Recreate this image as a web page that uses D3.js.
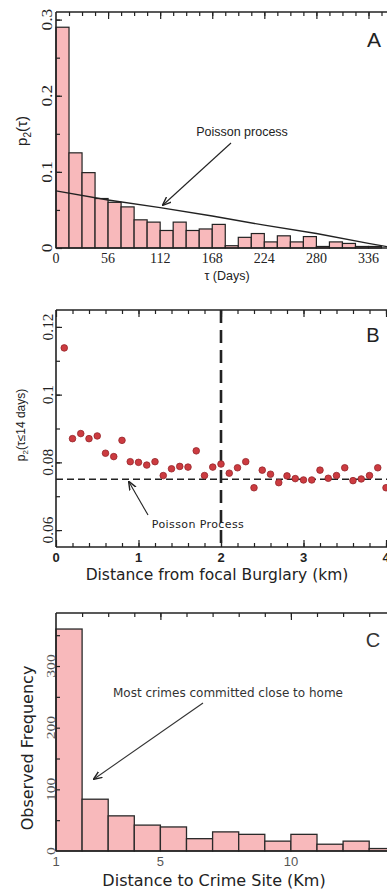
<!DOCTYPE html>
<html>
<head>
<meta charset="utf-8">
<script src="https://cdn.jsdelivr.net/npm/d3@7"></script>
<style>
  body { margin: 0; background: #fff; }
  svg { display: block; }
</style>
</head>
<body>
<script>
// ---- Panel A: repeat-burglary interval distribution (14-day bins) ----
const binStartsA = [0, 14, 28, 42, 56, 70, 84, 98, 112, 126, 140, 154, 168,
                    182, 196, 210, 224, 238, 252, 266, 280, 294, 308, 322, 336];
const p2Values = [0.290, 0.125, 0.099, 0.065, 0.060, 0.054, 0.037, 0.034, 0.023,
                  0.034, 0.023, 0.025, 0.031, 0.003, 0.014, 0.019, 0.008, 0.016,
                  0.008, 0.015, 0.002, 0.008, 0.006, 0.002, 0.002];
const poissonDays = [0, 56, 112, 168, 224, 280, 336, 360];
const poissonP2 = [0.075, 0.063, 0.053, 0.042, 0.030, 0.019, 0.006, 0.001];
const dayTicks = [0, 56, 112, 168, 224, 280, 336];
const p2Ticks = [0, 0.1, 0.2, 0.3];

// ---- Panel B: short-interval probability vs. distance from focal burglary ----
const distKm = [0.1, 0.2, 0.3, 0.4, 0.5, 0.6, 0.7, 0.8, 0.9, 1.0,
                1.1, 1.2, 1.3, 1.4, 1.5, 1.6, 1.7, 1.8, 1.9, 2.0,
                2.1, 2.2, 2.3, 2.4, 2.5, 2.6, 2.7, 2.8, 2.9, 3.0,
                3.1, 3.2, 3.3, 3.4, 3.5, 3.6, 3.7, 3.8, 3.9, 4.0];
const p2Near = [0.1138, 0.0870, 0.0885, 0.0870, 0.0878, 0.0827, 0.0817, 0.0865, 0.0802, 0.0800,
                0.0792, 0.0802, 0.0761, 0.0781, 0.0788, 0.0786, 0.0834, 0.0761, 0.0786, 0.0795,
                0.0768, 0.0784, 0.0802, 0.0725, 0.0777, 0.0765, 0.0740, 0.0760, 0.0752, 0.0748,
                0.0748, 0.0777, 0.0753, 0.0761, 0.0784, 0.0746, 0.0751, 0.0761, 0.0784, 0.0725];
const poissonLevelB = 0.075;
const focalCutKm = 2;
const kmTicks = [0, 1, 2, 3, 4];
const p2NearTicks = [0.06, 0.08, 0.1, 0.12];

// ---- Panel C: distance from home to crime site (1 km bins) ----
const siteKm = [1, 2, 3, 4, 5, 6, 7, 8, 9, 10, 11, 12, 13];
const siteFreq = [360, 84, 57, 42, 39, 20, 31, 27, 16, 27, 11, 16, 4];
const siteTicks = [1, 5, 10];
const freqTicks = [0, 100, 200, 300];

const W = 387, H = 892;
const INK = "#222";
const BAR_FILL = "#f8b9bb";
const SERIF = "'Liberation Serif', 'Times New Roman', serif";
const SANS = "'Liberation Sans', Arial, sans-serif";
const DEJAVU = "'DejaVu Sans', Verdana, sans-serif";

const svg = d3.select("body").append("svg")
  .attr("width", W).attr("height", H)
  .attr("viewBox", `0 0 ${W} ${H}`);

// open arrow head for annotations
svg.append("defs").append("marker")
  .attr("id", "arrowhead")
  .attr("viewBox", "0 0 10 10")
  .attr("refX", 9).attr("refY", 5)
  .attr("markerWidth", 8).attr("markerHeight", 8)
  .attr("orient", "auto")
  .append("path")
  .attr("d", "M0,1 L10,5 L0,9")
  .attr("fill", "none").attr("stroke", INK).attr("stroke-width", 1.6);

// inward-pointing tick marks drawn with a d3 axis generator
function inwardTicks(g, scale, orient, pos, values, len, width = 1.2) {
  const gen = orient === "top" ? d3.axisTop(scale)
            : orient === "bottom" ? d3.axisBottom(scale)
            : d3.axisLeft(scale);
  gen.tickValues(values).tickSizeInner(-len).tickSizeOuter(0).tickFormat("");
  const a = g.append("g")
    .attr("transform", orient === "left" ? `translate(${pos},0)` : `translate(0,${pos})`)
    .call(gen);
  a.select(".domain").remove();
  a.selectAll("line").attr("stroke", INK).attr("stroke-width", width);
  return a;
}

function frameLines(g, x0, y0, y1, x1) {
  g.append("line").attr("x1", x0).attr("x2", x1).attr("y1", y0).attr("y2", y0)
    .attr("stroke", INK).attr("stroke-width", 1.6);
  g.append("line").attr("x1", x0).attr("x2", x0).attr("y1", y0).attr("y2", y1)
    .attr("stroke", INK).attr("stroke-width", 1.6);
  g.append("line").attr("x1", x0).attr("x2", x1).attr("y1", y1).attr("y2", y1)
    .attr("stroke", INK).attr("stroke-width", 1.6);
}

function rotatedLabels(g, scale, values, x, fmt, font, size, color, stretch) {
  g.selectAll(null).data(values).join("text")
    .attr("transform", d => `translate(${x},${scale(d)}) rotate(-90) scale(${stretch},1)`)
    .attr("text-anchor", "middle")
    .attr("font-family", font).attr("font-size", size).attr("fill", color)
    .text(fmt);
}

function range(a, b, step) {
  const out = [];
  for (let v = a; v <= b + step / 1000; v += step) out.push(+v.toFixed(6));
  return out;
}

// ================= Panel A =================
{
  const g = svg.append("g");
  const left = 56, top = 12, bottom = 248;
  const x = d3.scaleLinear().domain([0, 365]).range([left, left + 365 * 0.93]);
  const y = d3.scaleLinear().domain([0, 0.31]).range([bottom, top]);

  g.selectAll("rect").data(binStartsA).join("rect")
    .attr("x", d => x(d))
    .attr("width", d => x(d + 14) - x(d))
    .attr("y", (d, i) => y(p2Values[i]))
    .attr("height", (d, i) => y(0) - y(p2Values[i]))
    .attr("fill", BAR_FILL).attr("stroke", INK).attr("stroke-width", 1.2);

  frameLines(g, left, top, bottom, W);
  inwardTicks(g, x, "top", top, range(14, 364, 14), 4);
  inwardTicks(g, x, "top", top, range(56, 336, 56), 7);
  inwardTicks(g, y, "left", left, range(0.05, 0.3, 0.05), 4);
  inwardTicks(g, y, "left", left, p2Ticks, 6);

  g.append("path")
    .datum(poissonDays.map((d, i) => [d, poissonP2[i]]))
    .attr("d", d3.line().x(d => x(d[0])).y(d => y(d[1])))
    .attr("fill", "none").attr("stroke", INK).attr("stroke-width", 1.4);

  g.selectAll(null).data(dayTicks).join("text")
    .attr("x", d => x(d)).attr("y", 263)
    .attr("text-anchor", "middle")
    .attr("font-family", SERIF).attr("font-size", 14).attr("fill", INK)
    .text(d => d);

  rotatedLabels(g, y, p2Ticks, 52, d => d === 0 ? "0" : d3.format(".1f")(d), SERIF, 15, INK, 1.15);

  const yl = g.append("text")
    .attr("transform", `translate(27,131) rotate(-90)`)
    .attr("text-anchor", "middle")
    .attr("font-family", SANS).attr("font-size", 15).attr("fill", INK);
  yl.append("tspan").text("p");
  yl.append("tspan").attr("font-size", 10).attr("dy", 4).text("2");
  yl.append("tspan").attr("dy", -4).text("(τ)");

  g.append("text").attr("x", 227).attr("y", 280)
    .attr("text-anchor", "middle")
    .attr("font-family", SANS).attr("font-size", 12.5).attr("fill", INK)
    .text("τ (Days)");

  g.append("text").attr("x", 242).attr("y", 136)
    .attr("text-anchor", "middle")
    .attr("font-family", SANS).attr("font-size", 12.5).attr("fill", INK)
    .text("Poisson process");
  g.append("line").attr("x1", 231).attr("y1", 143).attr("x2", 163).attr("y2", 205)
    .attr("stroke", INK).attr("stroke-width", 1.1).attr("marker-end", "url(#arrowhead)");

  g.append("text").attr("x", 374).attr("y", 47)
    .attr("text-anchor", "middle")
    .attr("font-family", SANS).attr("font-size", 21).attr("fill", INK)
    .text("A");
}

// ================= Panel B =================
{
  const g = svg.append("g");
  const left = 56, top = 310, bottom = 547;
  const x = d3.scaleLinear().domain([0, 4.25]).range([left, left + 4.25 * 82.5]);
  const y = d3.scaleLinear().domain([0.055, 0.125]).range([bottom, top]);

  frameLines(g, left, top, bottom, W);
  inwardTicks(g, x, "top", top, range(0.2, 4.2, 0.2), 4);
  inwardTicks(g, x, "top", top, kmTicks, 7);
  inwardTicks(g, x, "bottom", bottom, range(0.2, 4.2, 0.2), 4);
  inwardTicks(g, x, "bottom", bottom, kmTicks, 7);
  inwardTicks(g, y, "left", left, range(0.06, 0.12, 0.01), 4);
  inwardTicks(g, y, "left", left, p2NearTicks, 6);

  g.append("line")
    .attr("x1", x(focalCutKm)).attr("x2", x(focalCutKm))
    .attr("y1", y(0.125)).attr("y2", y(0.055))
    .attr("stroke", INK).attr("stroke-width", 2.6).attr("stroke-dasharray", "13,7");

  g.append("line")
    .attr("x1", left).attr("x2", W)
    .attr("y1", y(poissonLevelB)).attr("y2", y(poissonLevelB))
    .attr("stroke", INK).attr("stroke-width", 1.5).attr("stroke-dasharray", "7,4");

  g.selectAll("circle").data(distKm).join("circle")
    .attr("cx", d => x(d))
    .attr("cy", (d, i) => y(p2Near[i]))
    .attr("r", 3.3)
    .attr("fill", "#cc3b40").attr("stroke", "#96262b").attr("stroke-width", 0.8);

  g.selectAll(null).data(kmTicks).join("text")
    .attr("x", d => x(d)).attr("y", 562)
    .attr("text-anchor", "middle")
    .attr("font-family", SANS).attr("font-weight", "bold").attr("font-size", 13).attr("fill", INK)
    .text(d => d);

  rotatedLabels(g, y, p2NearTicks, 53, d => d3.format(".2~f")(d), SERIF, 14, INK, 1.1);

  const yl = g.append("text")
    .attr("transform", `translate(25,425) rotate(-90)`)
    .attr("text-anchor", "middle")
    .attr("font-family", SANS).attr("font-size", 12).attr("fill", INK);
  yl.append("tspan").text("p");
  yl.append("tspan").attr("font-size", 8).attr("dy", 3).text("2");
  yl.append("tspan").attr("dy", -3).text("(τ≤14 days)");

  g.append("text").attr("x", 217).attr("y", 580)
    .attr("text-anchor", "middle")
    .attr("font-family", DEJAVU).attr("font-size", 15.5).attr("fill", INK)
    .text("Distance from focal Burglary (km)");

  g.append("text").attr("x", 198).attr("y", 528)
    .attr("text-anchor", "middle")
    .attr("font-family", DEJAVU).attr("font-size", 11).attr("letter-spacing", 0.4).attr("fill", INK)
    .text("Poisson Process");
  g.append("line").attr("x1", 148).attr("y1", 515).attr("x2", 129).attr("y2", 482)
    .attr("stroke", INK).attr("stroke-width", 1.1).attr("marker-end", "url(#arrowhead)");

  g.append("text").attr("x", 373).attr("y", 342)
    .attr("text-anchor", "middle")
    .attr("font-family", SANS).attr("font-size", 20).attr("fill", INK)
    .text("B");
}

// ================= Panel C =================
{
  const g = svg.append("g");
  const left = 56, top = 613, bottom = 851;
  const x = d3.scaleLinear().domain([1, 14.5]).range([left, left + 13.5 * 26.1]);
  const y = d3.scaleLinear().domain([0, 386]).range([bottom, top]);

  g.selectAll("rect").data(siteKm).join("rect")
    .attr("x", d => x(d))
    .attr("width", d => x(d + 1) - x(d))
    .attr("y", (d, i) => y(siteFreq[i]))
    .attr("height", (d, i) => y(0) - y(siteFreq[i]))
    .attr("fill", BAR_FILL).attr("stroke", "#2a2a2a").attr("stroke-width", 1.3);

  frameLines(g, left, top, bottom, W);
  inwardTicks(g, x, "top", top, range(2, 14, 1), 4);
  inwardTicks(g, x, "top", top, [5, 10], 7);
  inwardTicks(g, y, "left", left, range(50, 350, 50), 4);

  g.selectAll(null).data(siteTicks).join("text")
    .attr("x", d => x(d)).attr("y", 866)
    .attr("text-anchor", "middle")
    .attr("font-family", SANS).attr("font-size", 13).attr("fill", "#555")
    .text(d => d);

  rotatedLabels(g, y, freqTicks, 55, d => d, SERIF, 13, "#555", 1.2);

  g.append("text")
    .attr("transform", `translate(33,748) rotate(-90)`)
    .attr("text-anchor", "middle")
    .attr("font-family", DEJAVU).attr("font-size", 16).attr("fill", INK)
    .text("Observed Frequency");

  g.append("text").attr("x", 214).attr("y", 886)
    .attr("text-anchor", "middle")
    .attr("font-family", DEJAVU).attr("font-size", 16).attr("fill", INK)
    .text("Distance to Crime Site (Km)");

  g.append("text").attr("x", 228).attr("y", 697)
    .attr("text-anchor", "middle")
    .attr("font-family", DEJAVU).attr("font-size", 12).attr("fill", "#333")
    .text("Most crimes committed close to home");
  g.append("line").attr("x1", 203).attr("y1", 703).attr("x2", 94).attr("y2", 779)
    .attr("stroke", "#333").attr("stroke-width", 1.1).attr("marker-end", "url(#arrowhead)");

  g.append("text").attr("x", 373).attr("y", 647)
    .attr("text-anchor", "middle")
    .attr("font-family", SANS).attr("font-size", 20).attr("fill", "#333")
    .text("C");
}
</script>
</body>
</html>
